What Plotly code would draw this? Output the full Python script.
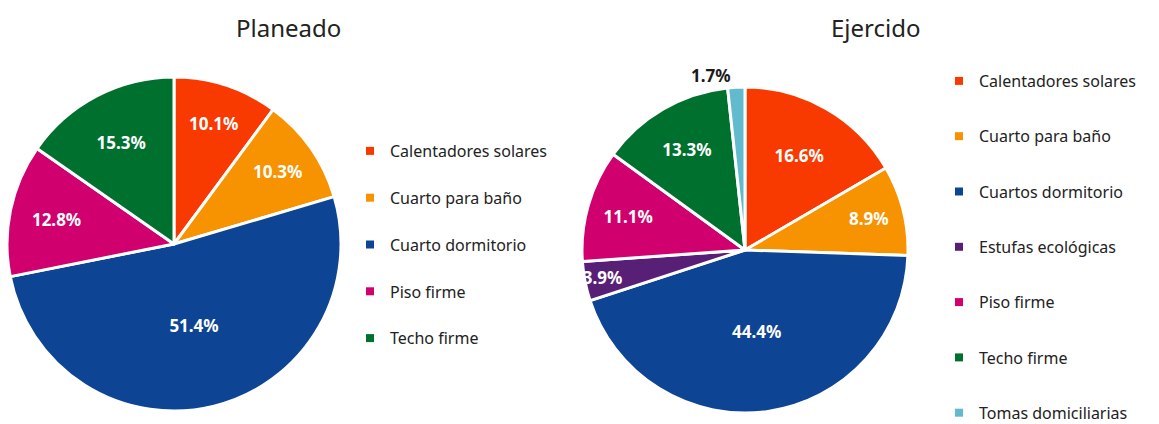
import plotly.graph_objects as go

# ---- data ----
plan_labels = ["Calentadores solares", "Cuarto para baño", "Cuarto dormitorio", "Piso firme", "Techo firme"]
plan_values = [10.1, 10.3, 51.4, 12.8, 15.3]
plan_colors = ["#F93A00", "#F79200", "#0E4494", "#D1006F", "#00702F"]

ejer_labels = ["Calentadores solares", "Cuarto para baño", "Cuartos dormitorio", "Estufas ecológicas",
               "Piso firme", "Techo firme", "Tomas domiciliarias"]
ejer_values = [16.6, 8.9, 44.4, 3.9, 11.1, 13.3, 1.7]
ejer_colors = ["#F93A00", "#F79200", "#0E4494", "#581F76", "#D1006F", "#00702F", "#62BACE"]

titles = ["Planeado", "Ejercido"]

FONT = "Noto Sans"
W, H = 1159, 424

fig = go.Figure()

def pie(labels, values, colors, domain, positions):
    return go.Pie(
        labels=labels, values=values, sort=False, direction="clockwise", rotation=0,
        marker=dict(colors=colors, line=dict(color="white", width=3)),
        text=[f"{v:.1f}%" for v in values], textinfo="text",
        textposition=positions, insidetextorientation="horizontal",
        insidetextfont=dict(color="white", size=17, family=FONT, weight="bold"),
        outsidetextfont=dict(color="#1a1a1a", size=17, family=FONT, weight="bold"),
        showlegend=False, domain=domain, hoverinfo="label+percent",
    )

# left pie: center (174,244) r 167
cx, cy, r = 174, 244, 167
fig.add_trace(pie(plan_labels, plan_values, plan_colors,
                  dict(x=[(cx - r) / W, (cx + r) / W], y=[(H - cy - r) / H, (H - cy + r) / H]),
                  ["inside"] * len(plan_values)))
cx, cy, r = 745, 250, 163
fig.add_trace(pie(ejer_labels, ejer_values, ejer_colors,
                  dict(x=[(cx - r) / W, (cx + r) / W], y=[(H - cy - r) / H, (H - cy + r) / H]),
                  ["inside"] * (len(ejer_values) - 1) + ["outside"]))

# legend entries
for i, (lab, col) in enumerate(zip(plan_labels, plan_colors)):
    fig.add_trace(go.Scatter(x=[None], y=[None], mode="markers", name=lab,
                             marker=dict(symbol="square", size=8, color=col),
                             legend="legend", legendgroup=f"p{i}", showlegend=True))
for i, (lab, col) in enumerate(zip(ejer_labels, ejer_colors)):
    fig.add_trace(go.Scatter(x=[None], y=[None], mode="markers", name=lab,
                             marker=dict(symbol="square", size=8, color=col),
                             legend="legend2", legendgroup=f"e{i}", showlegend=True))

leg_font = dict(family=FONT, size=16, color="#222222")
fig.update_layout(
    width=W, height=H,
    margin=dict(l=0, r=0, t=0, b=0, autoexpand=False),
    paper_bgcolor="white", plot_bgcolor="white",
    font=dict(family=FONT),
    xaxis=dict(visible=False), yaxis=dict(visible=False),
    uniformtext=dict(minsize=17, mode="show"),
    legend=dict(x=350 / W, y=1 - 134 / H, xanchor="left", yanchor="top",
                font=leg_font, tracegroupgap=23, bgcolor="rgba(0,0,0,0)"),
    legend2=dict(x=939 / W, y=1 - 64 / H, xanchor="left", yanchor="top",
                 font=leg_font, tracegroupgap=31.5, bgcolor="rgba(0,0,0,0)"),
    annotations=[
        dict(text=titles[0], x=288 / W, y=1 - 28 / H, xref="paper", yref="paper",
             xanchor="center", yanchor="middle",
             showarrow=False, font=dict(family=FONT, size=24, color="#222222")),
        dict(text=titles[1], x=876 / W, y=1 - 28 / H, xref="paper", yref="paper",
             xanchor="center", yanchor="middle",
             showarrow=False, font=dict(family=FONT, size=24, color="#222222")),
    ],
)

fig.write_html("out.html", config={"displayModeBar": False},
               post_script="document.body.style.margin='0';document.body.style.overflow='hidden';")
